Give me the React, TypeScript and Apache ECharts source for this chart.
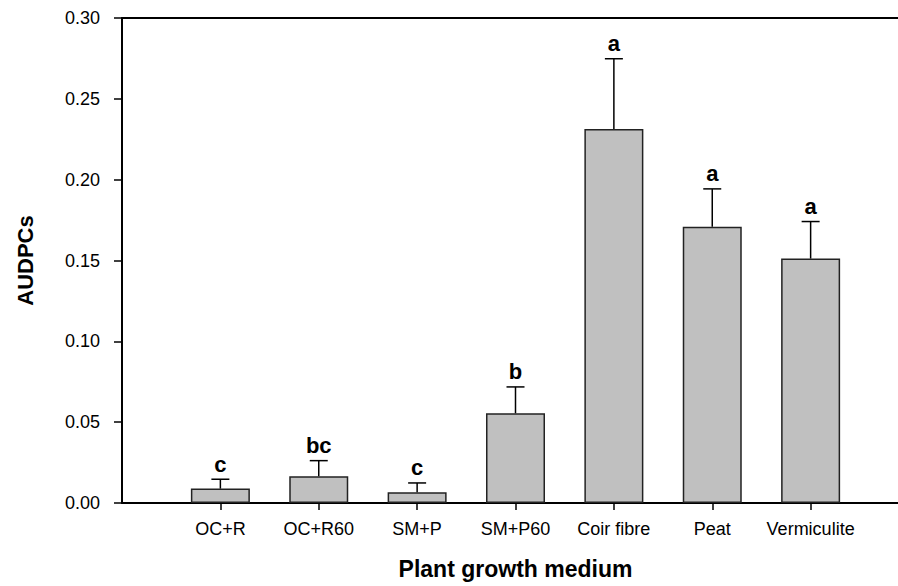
import React, { useEffect, useRef } from "react";
import * as echarts from "echarts";

const categories = ["OC+R", "OC+R60", "SM+P", "SM+P60", "Coir fibre", "Peat", "Vermiculite"];
const means = [0.0089, 0.0165, 0.0066, 0.0555, 0.2314, 0.1708, 0.1512];
const errors = [0.0058, 0.0097, 0.0058, 0.0163, 0.0434, 0.0235, 0.0229];
const letters = ["c", "bc", "c", "b", "a", "a", "a"];
const yMin = 0;
const yMax = 0.3;
const yStep = 0.05;

export default function App() {
  const ref = useRef<HTMLDivElement>(null);
  useEffect(() => {
    if (!ref.current) return;
    const chart = echarts.init(ref.current, undefined, { renderer: "svg" });
    const padded = ["", ...categories, ""];
    const barData = ["-", ...means, "-"];
    const errData = means.map((m, i) => [i + 1, m, errors[i]]);
    const font = "'Liberation Sans', Arial, sans-serif";
    chart.setOption({
      animation: false,
      backgroundColor: "#fff",
      grid: {
        left: 122,
        top: 18,
        height: 485,
        width: 787,
        containLabel: false,
        outerBoundsMode: "none",
      },
      xAxis: [
        {
          type: "category",
          data: padded,
          boundaryGap: false,
          position: "bottom",
          axisLine: { show: true, lineStyle: { color: "#000", width: 2 } },
          axisTick: {
            show: true,
            length: 7,
            inside: false,
            interval: (_i: number, v: string) => v !== "",
            lineStyle: { color: "#000", width: 1.5 },
          },
          axisLabel: {
            interval: 0,
            margin: 17,
            color: "#000",
            fontSize: 18,
            fontFamily: font,
          },
          splitLine: { show: false },
          name: "Plant growth medium",
          nameLocation: "middle",
          nameGap: 54,
          nameTextStyle: { color: "#000", fontSize: 23, fontWeight: "bold", fontFamily: font },
        },
        {
          type: "category",
          data: padded,
          boundaryGap: false,
          position: "top",
          axisLine: { show: true, lineStyle: { color: "#000", width: 2 } },
          axisTick: { show: false },
          axisLabel: { show: false },
        },
      ],
      yAxis: {
        type: "value",
        min: yMin,
        max: yMax,
        interval: yStep,
        axisLine: { show: true, lineStyle: { color: "#000", width: 2 } },
        axisTick: { show: true, length: 8, inside: false, lineStyle: { color: "#000", width: 1.5 } },
        axisLabel: {
          margin: 22,
          color: "#000",
          fontSize: 18,
          fontFamily: font,
          formatter: (v: number) => v.toFixed(2),
        },
        splitLine: { show: false },
        name: "AUDPCs",
        nameLocation: "middle",
        nameGap: 86,
        nameTextStyle: { color: "#000", fontSize: 22, fontWeight: "bold", fontFamily: font },
      },
      series: [
        {
          type: "bar",
          data: barData,
          barWidth: 59,
          itemStyle: { color: "#c0c0c0", borderColor: "#222", borderWidth: 1.5 },
          z: 2,
        },
        {
          type: "custom",
          data: errData,
          z: 3,
          renderItem: (params: any, api: any) => {
            const x = api.value(0);
            const m = api.value(1);
            const e = api.value(2);
            const top = api.coord([x, m]);
            const et = api.coord([x, m + e]);
            const lw = 1.5;
            return {
              type: "group",
              children: [
                {
                  type: "line",
                  shape: { x1: top[0], y1: top[1], x2: et[0], y2: et[1] },
                  style: { stroke: "#000", lineWidth: lw },
                },
                {
                  type: "line",
                  shape: { x1: et[0] - 9, y1: et[1], x2: et[0] + 9, y2: et[1] },
                  style: { stroke: "#000", lineWidth: lw },
                },
                {
                  type: "text",
                  x: et[0],
                  y: et[1] - 4,
                  style: {
                    text: letters[params.dataIndex],
                    align: "center",
                    verticalAlign: "bottom",
                    fill: "#000",
                    fontSize: 22,
                    fontWeight: "bold",
                    fontFamily: font,
                  },
                },
              ],
            };
          },
        },
      ],
    });
    return () => chart.dispose();
  }, []);
  return (
    <div
      ref={ref}
      style={{ position: "fixed", left: 0, top: 0, width: 898, height: 586, background: "#fff" }}
    />
  );
}
